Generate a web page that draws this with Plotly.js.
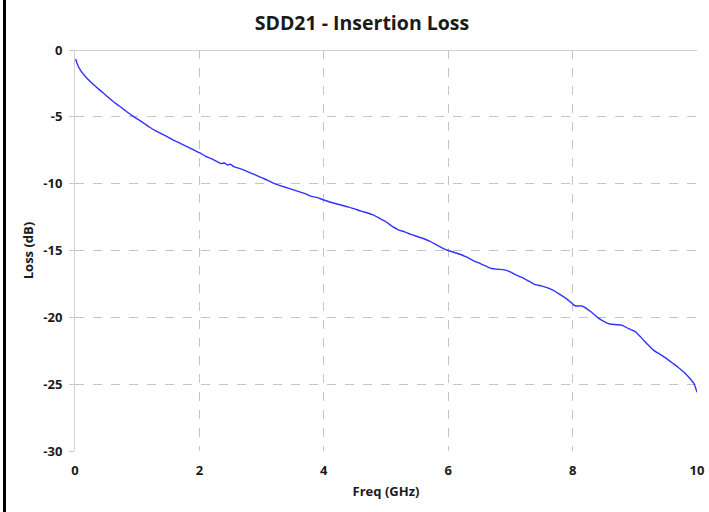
<!DOCTYPE html>
<html>
<head>
<meta charset="utf-8">
<script src="https://cdn.plot.ly/plotly-3.0.1.min.js"></script>
<style>
  html, body { margin: 0; padding: 0; background: #fff; }
  #wrap { position: relative; width: 709px; height: 512px; }
  #edge { position: absolute; left: 3px; top: 0; width: 3px; height: 512px; background: #000; z-index: 10; }
  #chart { width: 709px; height: 512px; }
</style>
</head>
<body>
<div id="wrap"><div id="edge"></div><div id="chart"></div></div>
<script>
const freqGHz = [0.01,0.05,0.1,0.2,0.3,0.4,0.5,0.6,0.7,0.8,0.9,1.0,1.1,1.2,1.3,1.4,1.5,1.6,1.7,1.8,1.9,2.0,2.1,2.2,2.3,2.35,2.4,2.45,2.5,2.55,2.6,2.7,2.8,2.9,3.0,3.1,3.2,3.3,3.4,3.5,3.6,3.7,3.8,3.9,4.0,4.2,4.4,4.6,4.8,4.9,5.0,5.1,5.2,5.3,5.4,5.5,5.6,5.7,5.8,5.9,6.0,6.1,6.2,6.3,6.4,6.5,6.6,6.7,6.8,6.9,7.0,7.1,7.2,7.3,7.4,7.5,7.6,7.7,7.8,7.9,8.0,8.05,8.15,8.3,8.4,8.5,8.6,8.7,8.8,8.9,9.0,9.1,9.2,9.3,9.4,9.5,9.6,9.7,9.8,9.9,9.95,10.0];
const lossDB = [-0.67,-1.2,-1.6,-2.15,-2.6,-3.0,-3.4,-3.8,-4.15,-4.5,-4.85,-5.15,-5.45,-5.78,-6.05,-6.3,-6.53,-6.78,-7.0,-7.22,-7.45,-7.68,-7.95,-8.15,-8.38,-8.5,-8.45,-8.6,-8.55,-8.72,-8.8,-8.95,-9.15,-9.35,-9.55,-9.75,-9.98,-10.15,-10.3,-10.45,-10.6,-10.75,-10.95,-11.05,-11.22,-11.5,-11.75,-12.05,-12.35,-12.6,-12.85,-13.2,-13.45,-13.6,-13.8,-13.95,-14.1,-14.3,-14.55,-14.8,-15.0,-15.15,-15.3,-15.5,-15.75,-15.95,-16.15,-16.35,-16.4,-16.45,-16.6,-16.85,-17.05,-17.3,-17.55,-17.65,-17.8,-18.0,-18.3,-18.6,-19.0,-19.15,-19.15,-19.6,-20.0,-20.3,-20.5,-20.55,-20.6,-20.85,-21.05,-21.5,-22.0,-22.45,-22.75,-23.05,-23.4,-23.75,-24.15,-24.65,-24.95,-25.6];
const xTicks = [0,2,4,6,8,10];
const yTicks = [0,-5,-10,-15,-20,-25,-30];

const FONT = '"Open Sans", "Noto Sans", sans-serif';

const trace = {
  x: freqGHz, y: lossDB, type: 'scatter', mode: 'lines',
  line: { color: '#3232ff', width: 1.4, shape: 'spline', smoothing: 0.6 },
  hoverinfo: 'skip'
};

const layout = {
  width: 709, height: 512,
  margin: { l: 75, r: 12, t: 50, b: 61 },
  paper_bgcolor: '#ffffff', plot_bgcolor: '#ffffff',
  showlegend: false,
  title: { text: '<b>SDD21 - Insertion Loss</b>', x: 0.5106, xanchor: 'center', y: 0.955, yanchor: 'middle',
           font: { family: FONT, size: 19.5, color: '#1a1a1a' } },
  xaxis: {
    range: [0, 10], tickvals: xTicks, ticktext: xTicks.map(String),
    showgrid: true, gridcolor: '#c4c4c4', griddash: 'dash', gridwidth: 1,
    zeroline: false, showline: false, ticks: '', ticklabelstandoff: 10,
    tickfont: { family: FONT, size: 13, color: '#1a1a1a', weight: 'bold' },
    title: { text: '<b>Freq (GHz)</b>', standoff: 8, font: { family: FONT, size: 13, color: '#1a1a1a' } }
  },
  yaxis: {
    range: [-30, 0], tickvals: yTicks, ticktext: yTicks.map(String),
    showgrid: true, gridcolor: '#c4c4c4', griddash: 'dash', gridwidth: 1,
    zeroline: true, zerolinecolor: '#d0d0d0', zerolinewidth: 1,
    showline: true, linecolor: '#d0d0d0', linewidth: 1, mirror: false,
    ticks: 'outside', ticklen: 5, tickcolor: '#c8c8c8', ticklabelstandoff: 4,
    tickfont: { family: FONT, size: 13, color: '#1a1a1a', weight: 'bold' },
    title: { text: '<b>Loss (dB)</b>', standoff: 6, font: { family: FONT, size: 13, color: '#1a1a1a' } }
  }
};

Plotly.newPlot('chart', [trace], layout, { displayModeBar: false, staticPlot: true });
</script>
</body>
</html>
